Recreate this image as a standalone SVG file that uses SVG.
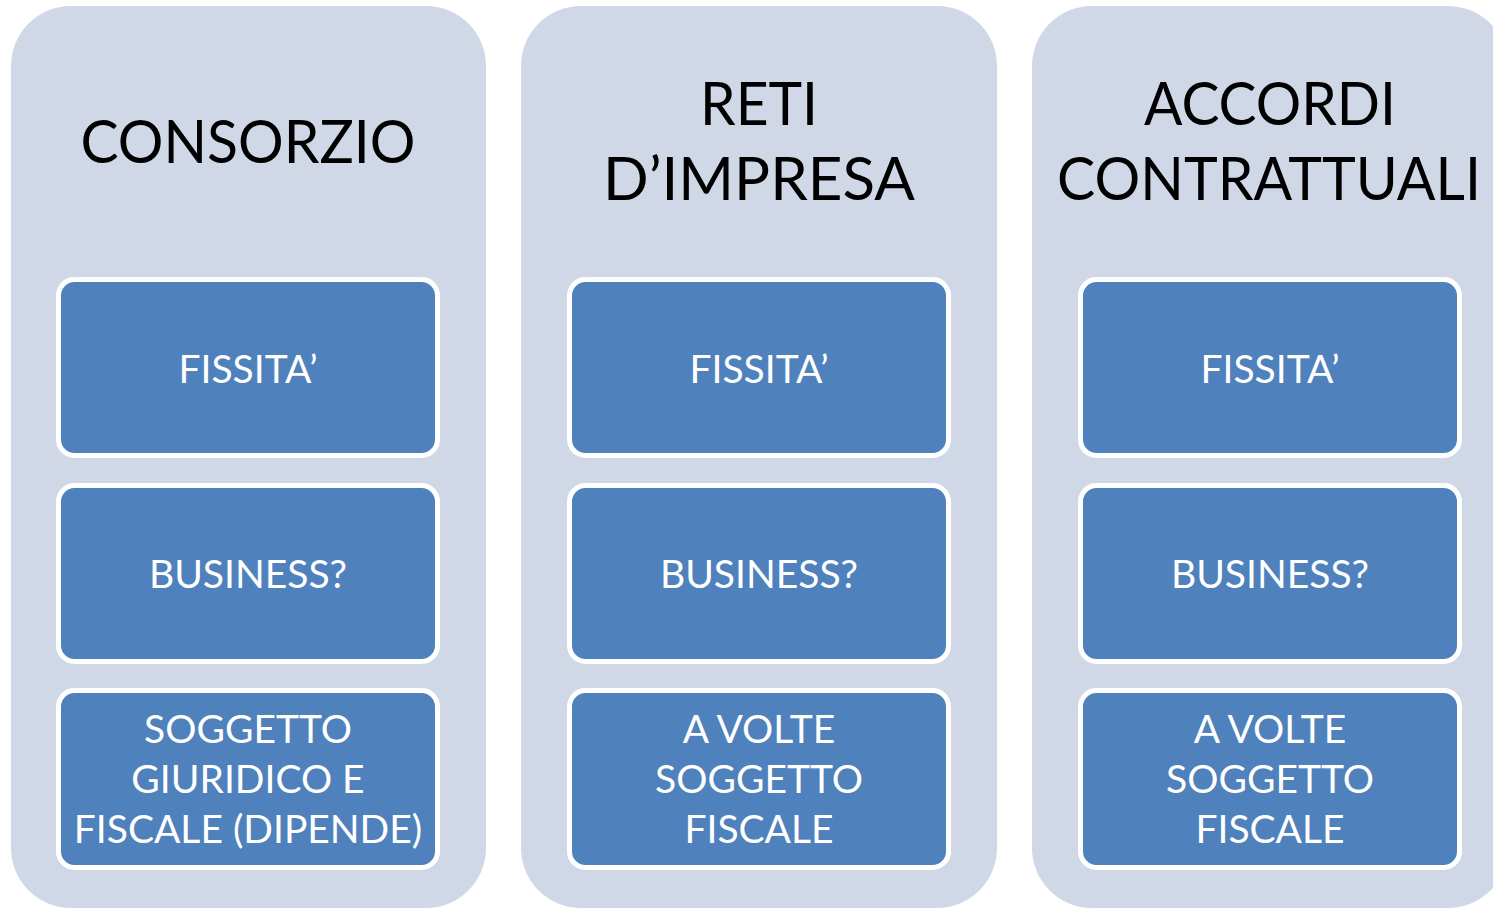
<svg xmlns="http://www.w3.org/2000/svg" width="1493" height="910" viewBox="0 0 1493 910">
<style>
.col{fill:#D0D8E8}
.box{fill:#4F81BD;stroke:#FFFFFF;stroke-width:5}
.t{font-family:Lato,"Open Sans",sans-serif;font-size:60px;fill:#000;text-anchor:middle}
.b{font-family:Lato,"Open Sans",sans-serif;font-size:39px;fill:#FFF;text-anchor:middle}
</style>
<rect width="1493" height="910" fill="#FFFFFF"/>
<g id="col-consorzio">
<rect class="col" x="11" y="6" width="475" height="902" rx="60"/>
<text class="t" x="248" y="163" textLength="335" lengthAdjust="spacingAndGlyphs">CONSORZIO</text>
</g>
<g id="col-reti">
<rect class="col" x="521" y="6" width="476" height="902" rx="60"/>
<text class="t" x="759" y="125" textLength="118" lengthAdjust="spacingAndGlyphs">RETI</text>
<text class="t" x="759" y="200" textLength="312" lengthAdjust="spacingAndGlyphs">D’IMPRESA</text>
</g>
<g id="col-accordi">
<rect class="col" x="1032" y="6" width="476" height="902" rx="60"/>
<text class="t" x="1270" y="125" textLength="252" lengthAdjust="spacingAndGlyphs">ACCORDI</text>
<text class="t" x="1269" y="200" textLength="424" lengthAdjust="spacingAndGlyphs">CONTRATTUALI</text>
</g>
<g id="c1-fissita"><rect class="box" x="58.5" y="279.5" width="379" height="176" rx="16"/><text class="b" x="248" y="383">FISSITA’</text></g>
<g id="c1-business"><rect class="box" x="58.5" y="485.5" width="379" height="176" rx="16"/><text class="b" x="248" y="588">BUSINESS?</text></g>
<g id="c1-soggetto"><rect class="box" x="58.5" y="690.5" width="379" height="177" rx="16"/><text class="b" x="248" y="743">SOGGETTO</text><text class="b" x="248" y="793">GIURIDICO E</text><text class="b" x="248" y="843">FISCALE (DIPENDE)</text></g>
<g id="c2-fissita"><rect class="box" x="569.5" y="279.5" width="379" height="176" rx="16"/><text class="b" x="759" y="383">FISSITA’</text></g>
<g id="c2-business"><rect class="box" x="569.5" y="485.5" width="379" height="176" rx="16"/><text class="b" x="759" y="588">BUSINESS?</text></g>
<g id="c2-avolte"><rect class="box" x="569.5" y="690.5" width="379" height="177" rx="16"/><text class="b" x="759" y="743">A VOLTE</text><text class="b" x="759" y="793">SOGGETTO</text><text class="b" x="759" y="843">FISCALE</text></g>
<g id="c3-fissita"><rect class="box" x="1080.5" y="279.5" width="379" height="176" rx="16"/><text class="b" x="1270" y="383">FISSITA’</text></g>
<g id="c3-business"><rect class="box" x="1080.5" y="485.5" width="379" height="176" rx="16"/><text class="b" x="1270" y="588">BUSINESS?</text></g>
<g id="c3-avolte"><rect class="box" x="1080.5" y="690.5" width="379" height="177" rx="16"/><text class="b" x="1270" y="743">A VOLTE</text><text class="b" x="1270" y="793">SOGGETTO</text><text class="b" x="1270" y="843">FISCALE</text></g>
<g id="connectors"></g>
</svg>
